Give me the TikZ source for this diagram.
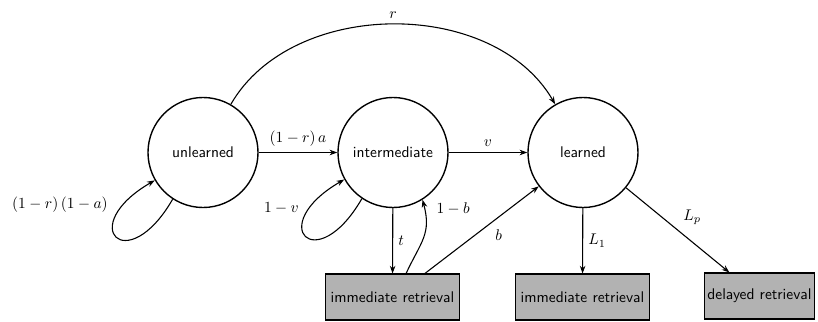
\documentclass[tikz,border=0pt]{standalone}
\usetikzlibrary{arrows.meta}
\begin{document}
\begin{tikzpicture}[x=0.6466pt,y=0.6466pt,
  state/.style={circle,draw,line width=0.9pt,minimum size=2.5cm,inner sep=0pt,font=\sffamily},
  retbox/.style={rectangle,draw,line width=0.9pt,fill=black!30,minimum height=29.5pt,inner xsep=3.5pt,font=\sffamily},
  arr/.style={line width=0.7pt,-{Stealth[length=5pt,width=3.6pt]}}]
\useasboundingbox (0,0) rectangle (818,-322);
\node[state] (u) at (203,-152.5) {unlearned};
\node[state] (i) at (393,-152.5) {intermediate};
\node[state] (l) at (583,-152.5) {learned};
\node[retbox] (b1) at (392.5,-297) {immediate retrieval};
\node[retbox] (b2) at (582.5,-297) {immediate retrieval};
\node[retbox,inner xsep=2pt] (b3) at (759.5,-296) {delayed retrieval};
\draw[arr] (u) -- node[above]{$(1-r)\,a$} (i);
\draw[arr] (i) -- node[above]{$v$} (l);
\draw[arr] (u.60) .. controls +(60:123) and +(120:123) .. node[above]{$r$} (l.120);
\draw[arr] (u.-123) .. controls +(-120:92) and +(-150:92) .. node[pos=0.85,anchor=east,xshift=-9pt,yshift=-2.5pt]{$(1-r)\,(1-a)$} (u.-150);
\draw[arr] (i.-124) .. controls +(-120:92) and +(-150:92) .. node[pos=0.85,anchor=east,xshift=-8pt,yshift=-5pt]{$1-v$} (i.-151);
\draw[arr] (i) -- node[right]{$t$} (b1);
\draw[arr] (b1.60) to[out=65,in=-75,looseness=1.2] node[pos=0.9,right=4pt]{$1-b$} (i.-58);
\draw[arr] (b1.36) -- node[pos=0.57,below right]{$b$} (l);
\draw[arr] (l) -- node[right]{$L_1$} (b2);
\draw[arr] (l) -- node[above right]{$L_p$} (b3.142);
\end{tikzpicture}
\end{document}
